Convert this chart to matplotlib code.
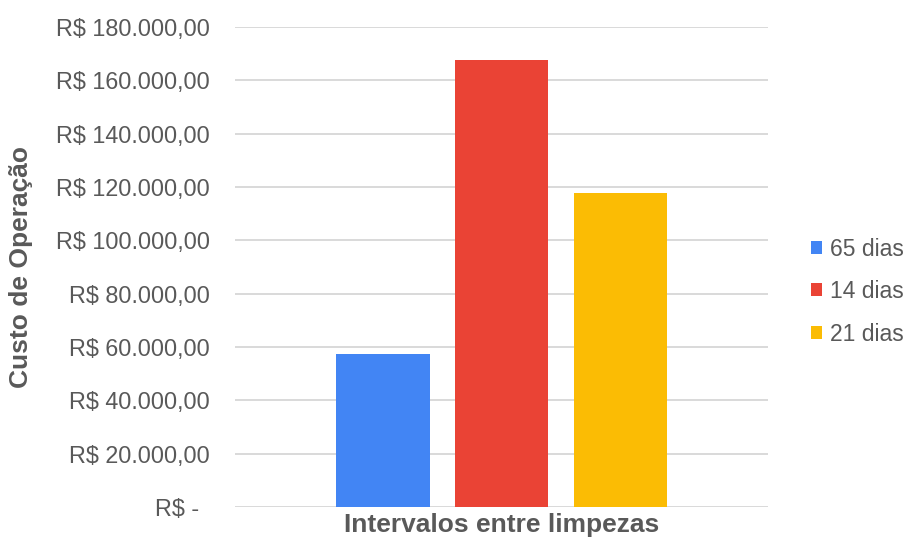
import matplotlib.pyplot as plt
from matplotlib.patches import Patch
from matplotlib.ticker import FuncFormatter, MultipleLocator

plt.rcParams['font.family'] = ['Liberation Sans', 'DejaVu Sans']

series = ["65 dias", "14 dias", "21 dias"]
custos = [57500, 167500, 117700]
cores = ["#4285F4", "#EA4335", "#FBBC04"]
categoria = "Intervalos entre limpezas"
y_titulo = "Custo de Operação"

texto = "#595959"

fig = plt.figure(figsize=(9.08, 5.4), dpi=100)
ax = fig.add_axes([0.259, 0.061, 0.587, 0.889])

largura = 0.788
n = len(series)
for i, (nome, v, c) in enumerate(zip(series, custos, cores)):
    ax.bar(i - (n - 1) / 2, v, width=largura, color=c, label=nome, zorder=2)

ax.set_xlim(-2.245, 2.245)
ax.set_ylim(0, 180000)
ax.yaxis.set_major_locator(MultipleLocator(20000))


def moeda(v, pos):
    if v == 0:
        return "R$ - \u2009"
    s = f"{v:,.2f}".replace(",", "X").replace(".", ",").replace("X", ".")
    return f"R$ {s}"


ax.yaxis.set_major_formatter(FuncFormatter(moeda))
ax.grid(axis="y", color="#d9d9d9", linewidth=1.4, zorder=0)
for s in ax.spines.values():
    s.set_visible(False)
ax.tick_params(axis="y", length=0, pad=18, labelsize=16.8, labelcolor=texto)
ax.set_xticks([0])
ax.set_xticklabels([categoria], fontsize=19, fontweight="bold", color=texto)
ax.tick_params(axis="x", length=0, pad=4)
ax.set_ylabel(y_titulo, fontsize=19, fontweight="bold", color=texto, labelpad=17)

handles = [Patch(facecolor=c, edgecolor="none") for c in cores]
leg = fig.legend(handles, series, loc="center left", bbox_to_anchor=(0.893, 0.46),
                 frameon=False, fontsize=16.5, handlelength=0.5, handleheight=0.5,
                 handletextpad=0.35, labelspacing=0.85, borderaxespad=0, borderpad=0)
for t in leg.get_texts():
    t.set_color(texto)

fig.savefig("out.png", dpi=100, facecolor="white")
